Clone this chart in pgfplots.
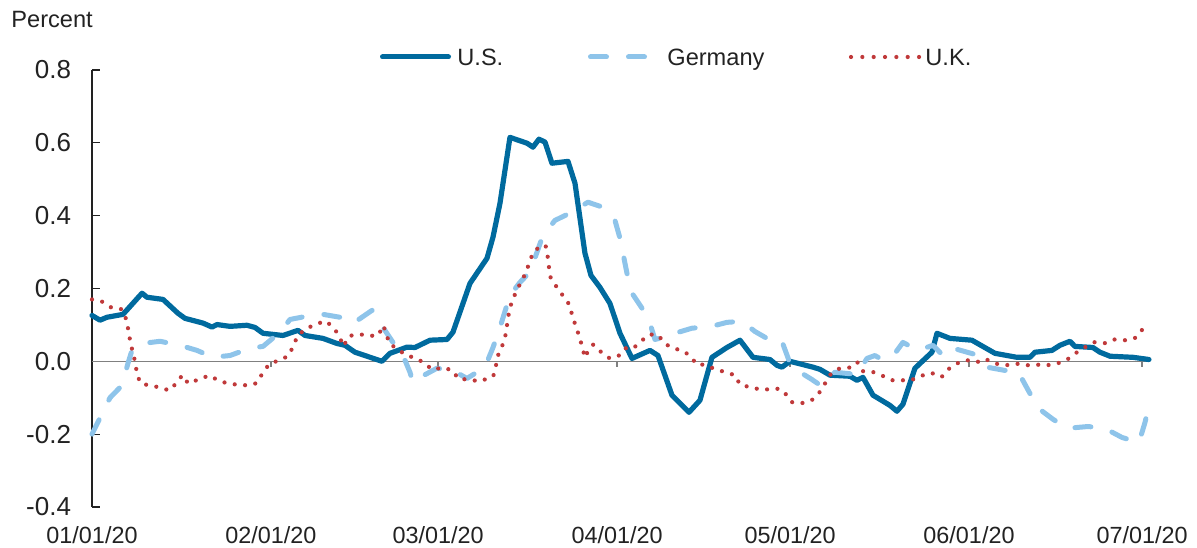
\documentclass[border=0pt]{standalone}
\usepackage{pgfplots}
\pgfplotsset{compat=1.18}
\usepackage{fontspec}
\setmainfont{Liberation Sans}
\definecolor{usblue}{RGB}{0,106,158}
\definecolor{deblue}{RGB}{142,196,234}
\definecolor{ukred}{RGB}{192,57,58}
\definecolor{txt}{RGB}{34,34,34}
\definecolor{axisgray}{RGB}{128,128,128}
\begin{document}
\begin{tikzpicture}
\useasboundingbox (0,0) rectangle (598.5bp,274bp);
\begin{axis}[
  scale only axis, width=528.5bp, height=218.5bp,
  at={(46bp,20.5bp)}, anchor=south west,
  xmin=0, xmax=183.2, ymin=-0.4, ymax=0.8,
  clip=false,
  axis y line*=left, axis x line*=bottom,
  x axis line style={draw=none},
  y axis line style={draw=txt, line width=0.6bp, -},
  xtick={0,31,60,91,121,152,182},
  xticklabels={01/01/20,02/01/20,03/01/20,04/01/20,05/01/20,06/01/20,07/01/20},
  ytick={-0.4,-0.2,0,0.2,0.4,0.6,0.8},
  yticklabels={-0.4,-0.2,0.0,0.2,0.4,0.6,0.8},
  tick align=inside,
  x tick style={draw=none},
  y tick style={draw=txt, line width=0.6bp},
  major tick length=4bp,
  yticklabel style={font=\fontsize{13bp}{15bp}\selectfont, text=txt, xshift=-7bp},
  xticklabel style={font=\fontsize{11.7bp}{14bp}\selectfont, text=txt, yshift=-6.5bp},
]
\draw[axisgray, line width=0.7bp] (axis cs:0,0) -- (axis cs:183.2,0);
\pgfplotsinvokeforeach{31,60,91,121,152,182}{
  \draw[axisgray, line width=0.7bp] (axis cs:#1,0) -- ([yshift=-3bp]axis cs:#1,0);
}
\addplot[usblue, line width=2.6bp, line join=round, line cap=round] coordinates {
(0,0.126)(1.39,0.113)(2.60,0.121)(5.37,0.129)(8.67,0.187)(9.53,0.176)(12.31,0.170)(14.90,0.132)(16.12,0.118)(19.24,0.105)(20.80,0.094)(21.66,0.101)(23.92,0.096)(26.86,0.099)(28.25,0.093)(29.64,0.077)(33.10,0.071)(35.70,0.085)(36.92,0.071)(40.03,0.063)(42.46,0.049)(43.85,0.044)(45.58,0.025)(47.66,0.014)(50.26,0.000)(51.65,0.022)(54.59,0.039)(55.98,0.038)(58.58,0.058)(61.53,0.060)(62.56,0.080)(65.51,0.214)(68.46,0.283)(69.50,0.341)(70.71,0.434)(72.44,0.615)(75.39,0.599)(76.43,0.588)(77.47,0.610)(78.51,0.602)(79.72,0.544)(82.50,0.549)(83.71,0.489)(85.44,0.297)(86.48,0.236)(88.04,0.203)(89.77,0.159)(91.51,0.077)(93.59,0.008)(96.71,0.030)(98.09,0.016)(100.52,-0.093)(103.47,-0.140)(105.37,-0.107)(107.45,0.011)(110.05,0.038)(112.31,0.058)(114.56,0.011)(117.50,0.005)(118.72,-0.011)(119.58,-0.016)(120.97,0.000)(124.96,-0.016)(126.17,-0.022)(127.90,-0.038)(131.37,-0.041)(132.58,-0.052)(133.62,-0.044)(135.36,-0.093)(138.30,-0.121)(139.51,-0.137)(140.55,-0.118)(142.63,-0.019)(145.58,0.025)(146.45,0.077)(148.70,0.063)(152.51,0.058)(156.50,0.022)(160.31,0.011)(162.56,0.011)(163.43,0.025)(166.38,0.030)(167.76,0.044)(169.50,0.055)(170.36,0.041)(173.48,0.038)(174.70,0.025)(176.43,0.014)(180.42,0.011)(183.19,0.005)
};
\addplot[deblue, line width=2.5bp, line cap=round, line join=round, dash pattern=on 8bp off 11bp] coordinates {
(0,-0.200)(3.12,-0.100)(5.20,-0.066)(6.24,-0.005)(6.93,0.030)(9.19,0.050)(11.79,0.055)(15.25,0.044)(18.20,0.030)(20.97,0.011)(23.92,0.016)(27.38,0.036)(29.64,0.041)(32.58,0.080)(34.32,0.115)(37.26,0.124)(40.03,0.129)(42.98,0.121)(45.23,0.104)(48.53,0.140)(50.43,0.093)(52.17,0.052)(53.90,0.016)(55.11,-0.030)(55.63,-0.058)(56.50,-0.047)(59.79,-0.019)(62.56,-0.025)(64.99,-0.047)(68.11,-0.016)(69.50,0.038)(70.71,0.093)(72.44,0.181)(74.18,0.217)(75.91,0.245)(78.16,0.346)(80.24,0.387)(82.84,0.407)(85.96,0.437)(88.56,0.423)(90.64,0.387)(91.51,0.338)(92.72,0.242)(93.59,0.187)(95.32,0.146)(96.71,0.104)(97.57,0.060)(99.65,0.068)(101.04,0.077)(103.99,0.091)(107.11,0.095)(110.05,0.107)(112.65,0.110)(114.90,0.082)(117.85,0.055)(119.24,0.060)(119.76,0.047)(120.97,-0.005)(123.05,-0.033)(124.78,-0.050)(126.17,-0.065)(127.21,-0.045)(128.77,-0.030)(132.58,-0.036)(134.32,0.008)(135.70,0.016)(137.09,0.003)(139.17,0.022)(140.55,0.052)(143.15,0.030)(145.75,0.044)(147.49,0.016)(148.70,0.036)(149.91,0.033)(153.03,0.019)(155.11,-0.016)(158.23,-0.025)(159.62,-0.022)(160.83,-0.038)(162.56,-0.088)(163.78,-0.126)(166.55,-0.159)(168.98,-0.184)(172.62,-0.179)(175.56,-0.184)(178.51,-0.209)(181.46,-0.223)(182.50,-0.168)(183.19,-0.121)
};
\addplot[ukred, line width=2.1bp, line cap=round, dash pattern=on 0bp off 5.2bp] coordinates {
(0,0.170)(1.96,0.163)(3.41,0.147)(5.15,0.143)(5.89,0.117)(6.29,0.087)(6.59,0.058)(6.99,0.030)(7.45,0.000)(7.75,-0.029)(8.32,-0.059)(9.76,-0.066)(11.61,-0.071)(13.41,-0.080)(14.68,-0.059)(15.65,-0.038)(16.69,-0.061)(18.42,-0.050)(20.28,-0.039)(21.89,-0.052)(23.34,-0.060)(25.08,-0.064)(26.92,-0.066)(28.54,-0.060)(29.51,-0.034)(30.68,-0.008)(32.41,0.003)(33.97,0.014)(34.89,0.041)(35.58,0.069)(36.92,0.088)(38.65,0.101)(40.50,0.111)(41.82,0.093)(42.86,0.070)(43.55,0.041)(44.59,0.070)(46.45,0.074)(48.18,0.070)(49.62,0.071)(50.49,0.099)(50.95,0.078)(51.53,0.049)(52.98,0.033)(54.54,0.016)(56.15,0.009)(57.71,-0.006)(58.98,-0.023)(60.78,-0.017)(62.51,-0.025)(63.48,-0.048)(65.22,-0.050)(67.24,-0.055)(69.55,-0.041)(70.02,-0.011)(70.42,0.018)(71.18,0.046)(71.70,0.074)(71.98,0.105)(72.27,0.134)(72.74,0.163)(73.48,0.190)(74.30,0.216)(75.22,0.244)(75.79,0.271)(76.48,0.300)(77.94,0.319)(78.63,0.317)(78.98,0.287)(79.20,0.259)(79.50,0.229)(80.54,0.204)(81.68,0.179)(82.72,0.156)(83.24,0.126)(83.83,0.097)(84.45,0.069)(84.97,0.039)(85.44,0.010)(86.01,0.030)(86.88,0.046)(88.21,0.026)(89.65,0.009)(91.21,0.014)(92.37,0.036)(93.76,0.035)(95.15,0.055)(96.59,0.074)(98.15,0.072)(99.31,0.048)(100.75,0.036)(102.60,0.028)(103.93,0.010)(104.80,-0.009)(106.07,-0.009)(107.80,-0.020)(109.58,-0.029)(111.44,-0.038)(112.31,-0.064)(114.04,-0.071)(115.77,-0.077)(117.63,-0.077)(119.12,-0.075)(120.10,-0.087)(121.27,-0.112)(123.00,-0.115)(124.73,-0.107)(126.05,-0.086)(127.04,-0.061)(128.08,-0.034)(129.51,-0.020)(131.37,-0.017)(132.63,-0.002)(133.57,-0.027)(135.30,-0.029)(137.04,-0.040)(138.77,-0.052)(140.33,-0.052)(141.94,-0.052)(143.67,-0.040)(145.53,-0.032)(147.26,-0.043)(148.30,-0.023)(149.86,-0.006)(151.70,0.003)(153.43,-0.002)(154.77,0.007)(156.50,-0.006)(158.35,-0.011)(160.09,-0.006)(161.82,-0.011)(163.60,-0.009)(165.46,-0.011)(167.30,-0.006)(169.03,0.005)(170.54,0.023)(172.15,0.039)(173.83,0.053)(175.56,0.050)(177.12,0.060)(179.03,0.058)(180.76,0.064)(182.03,0.087)(183.19,0.105)
};
\end{axis}
\node[anchor=base west, inner sep=0, text=txt, font=\fontsize{11.8bp}{14bp}\selectfont] at (5.5bp,260bp) {Percent};
% legend
\draw[usblue, line width=2.5bp, line cap=round] (191.25bp,245.5bp) -- (224.25bp,245.5bp);
\node[anchor=base west, inner sep=0, text=txt, font=\fontsize{11.8bp}{14bp}\selectfont] at (228.5bp,241.35bp) {U.S.};
\draw[deblue, line width=2.5bp, line cap=round, dash pattern=on 8bp off 11bp] (295.25bp,245.5bp) -- (322.25bp,245.5bp);
\node[anchor=base west, inner sep=0, text=txt, font=\fontsize{11.8bp}{14bp}\selectfont] at (333.5bp,241.35bp) {Germany};
\draw[ukred, line width=2.1bp, line cap=round, dash pattern=on 0bp off 5.67bp] (425.5bp,245.5bp) -- (459.6bp,245.5bp);
\node[anchor=base west, inner sep=0, text=txt, font=\fontsize{11.8bp}{14bp}\selectfont] at (462.5bp,241.35bp) {U.K.};
\end{tikzpicture}
\end{document}
